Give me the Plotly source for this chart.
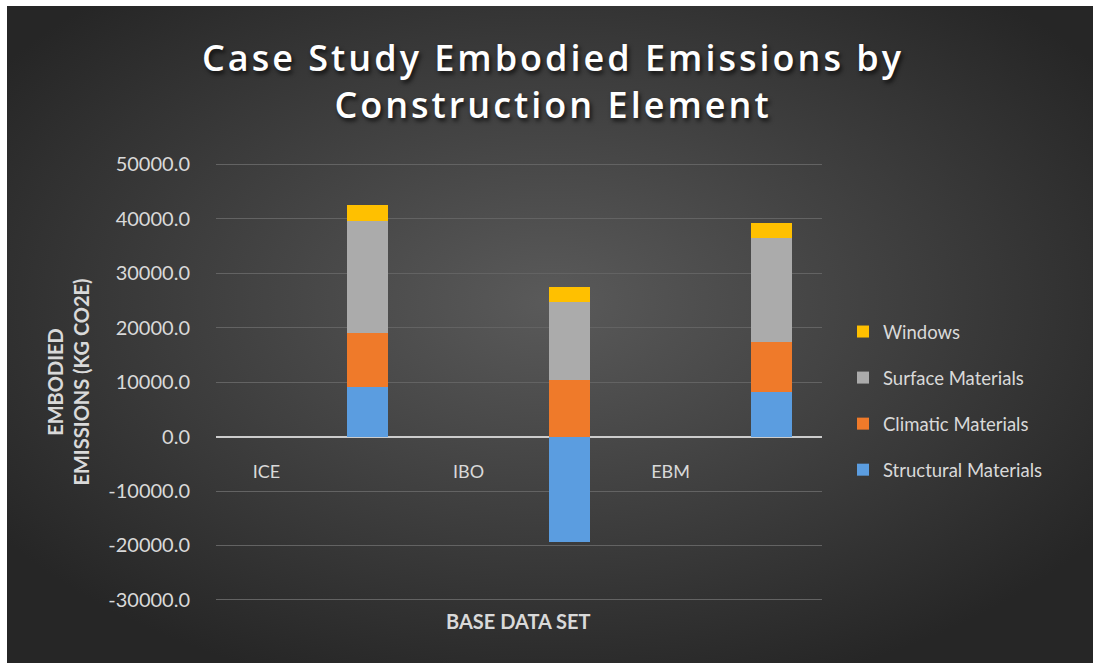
import base64
import plotly.graph_objects as go

# Embodied emissions (kg CO2e) per construction element for each base data set
categories = ["ICE", "IBO", "EBM"]
structural = [9170, -19400, 8250]
climatic = [9800, 10400, 9150]
surface = [20660, 14250, 19000]
windows = [2940, 2750, 2850]

# value axis ticks
y_ticks = [-30000, -20000, -10000, 0, 10000, 20000, 30000, 40000, 50000]
y_ticktext = [f"{v:.1f}" for v in y_ticks]

series = [
    ("Structural Materials", structural, "#5b9de0"),
    ("Climatic Materials", climatic, "#ef7a2a"),
    ("Surface Materials", surface, "#ababab"),
    ("Windows", windows, "#ffc000"),
]

W, H = 1093, 663
L, R, T, B = 216, 1093 - 822, 163, 663 - 601
FONT = "Lato"
TXT = "#d9d9d9"
Y_PAD = 185  # keeps the outer gridlines inside the plot area

# each data set gets a label slot followed by a bar slot
bar_x = [2 * i + 1 for i in range(len(categories))]
tick_x = [2 * i for i in range(len(categories))]

fig = go.Figure()
for rank, (name, vals, color) in enumerate(series):
    fig.add_trace(go.Bar(
        x=bar_x, y=vals, name=name, legendgroup=name,
        legendrank=len(series) - rank,
        marker=dict(color=color, line=dict(width=0)),
        width=0.41,
    ))

# dark radial background drawn as an svg image behind the chart
svg = (
    '<svg xmlns="http://www.w3.org/2000/svg" width="1086" height="657">'
    '<defs><radialGradient id="g" cx="50%" cy="45%" r="62%">'
    '<stop offset="0%" stop-color="#5a5a5a"/>'
    '<stop offset="100%" stop-color="#262626"/>'
    '</radialGradient></defs>'
    '<rect width="1086" height="657" fill="url(#g)"/></svg>'
)
src = "data:image/svg+xml;base64," + base64.b64encode(svg.encode()).decode()
pw, ph = W - L - R, H - T - B
py0 = H - B  # pixel row of the plot bottom


def py(v):
    """paper y for a pixel row measured from the top"""
    return (py0 - v) / ph


def px(v):
    """paper x for a pixel column measured from the left"""
    return (v - L) / pw


fig.add_layout_image(dict(
    source=src, xref="paper", yref="paper",
    x=px(7), y=py(6), sizex=(W - 7) / pw, sizey=(H - 6) / ph,
    xanchor="left", yanchor="top", sizing="stretch", layer="below",
))

fig.add_annotation(
    text="Case Study Embodied Emissions by<br>Construction Element",
    xref="paper", yref="paper", x=px(553), y=py(31),
    xanchor="center", yanchor="top", showarrow=False,
    font=dict(family="Open Sans", size=36, color="#ffffff", weight=600,
              shadow="2px 3px 4px rgba(0,0,0,0.7)"),
)
fig.add_annotation(
    text="<b>BASE DATA SET</b>", xref="paper", yref="paper",
    x=px(518), y=py(621), xanchor="center", yanchor="middle",
    showarrow=False, font=dict(family=FONT, size=20, color=TXT),
)

fig.update_layout(
    width=W, height=H,
    margin=dict(l=L, r=R, t=T, b=B, pad=0),
    paper_bgcolor="#ffffff", plot_bgcolor="rgba(0,0,0,0)",
    barmode="relative", bargap=0,
    font=dict(family=FONT, color=TXT, size=18),
    showlegend=True,
    legend=dict(
        x=px(843), y=py(313), xanchor="left", yanchor="top",
        traceorder="grouped", tracegroupgap=19,
        font=dict(family=FONT, size=18.5, color=TXT),
        bgcolor="rgba(0,0,0,0)", itemwidth=30,
    ),
    xaxis=dict(
        range=[-0.5, 2 * len(categories) - 0.5],
        tickvals=tick_x, ticktext=categories,
        anchor="free", position=(30000 + Y_PAD) / (80000 + 2 * Y_PAD),
        showgrid=False, zeroline=False, showline=False,
        ticks="outside", ticklen=19, tickcolor="rgba(0,0,0,0)",
        tickfont=dict(family=FONT, size=18, color=TXT),
    ),
    yaxis=dict(
        range=[-30000 - Y_PAD, 50000 + Y_PAD], tickmode="array",
        tickvals=y_ticks, ticktext=y_ticktext,
        showgrid=True, gridcolor="#636363", gridwidth=1,
        zeroline=True, zerolinecolor="#cccccc", zerolinewidth=2,
        ticks="outside", ticklen=21, tickcolor="rgba(0,0,0,0)",
        tickfont=dict(family=FONT, size=20, color=TXT),
        title=dict(text="<b>EMBODIED<br>EMISSIONS (KG CO2E)</b>",
                   font=dict(family=FONT, size=20, color=TXT), standoff=13),
    ),
)

# widen the character spacing of the chart title
title_spacing = """
document.querySelectorAll('.annotation-text').forEach(function (t) {
  if (t.textContent.indexOf('Case Study') === 0) {
    t.style.letterSpacing = '3px';
  }
});
"""

fig.write_html("out.html", post_script=title_spacing)
